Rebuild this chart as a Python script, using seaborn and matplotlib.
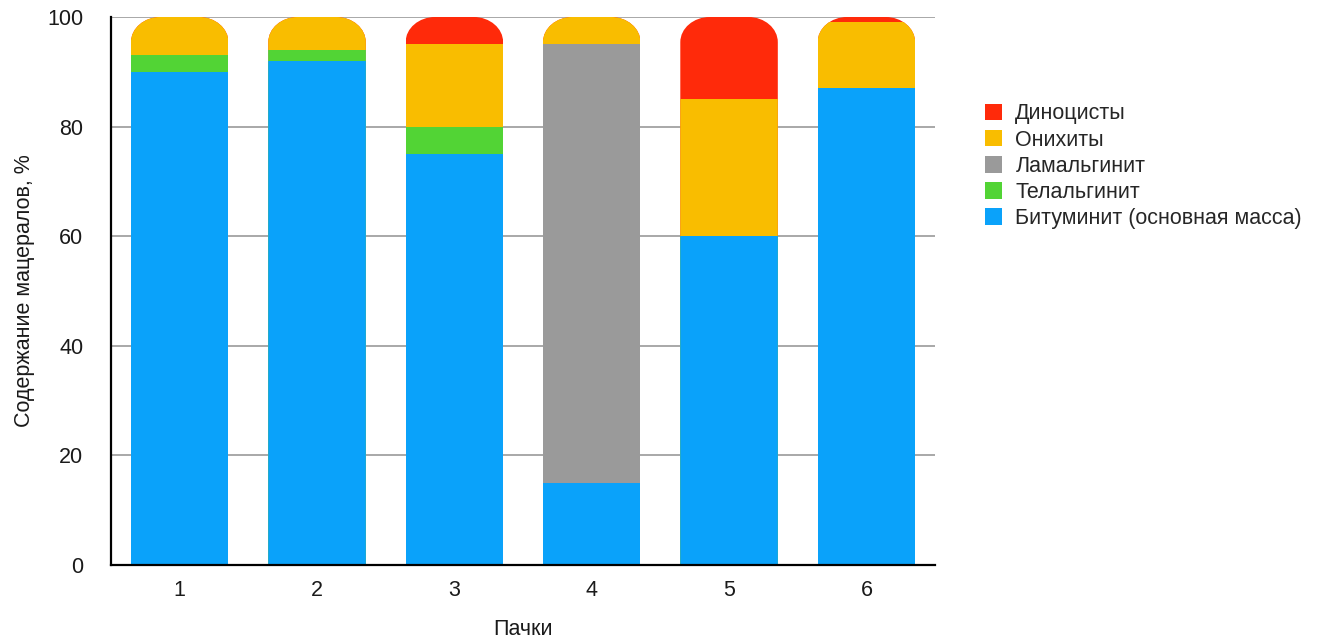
import numpy as np
import pandas as pd
import matplotlib
matplotlib.use("Agg")
import matplotlib.pyplot as plt
from matplotlib.patches import Patch
from matplotlib.path import Path
import seaborn as sns

# Macerals composition by unit (пачки), percent
packs = ["1", "2", "3", "4", "5", "6"]
bituminite = [90, 92, 75, 15, 60, 87]
telalginite = [3, 2, 5, 0, 0, 0]
lamalginite = [0, 0, 0, 80, 0, 0]
onychites = [7, 6, 15, 5, 25, 12]
dinocysts = [0, 0, 5, 0, 15, 1]

layer_names = ["Битуминит (основная масса)", "Телальгинит", "Ламальгинит",
               "Онихиты", "Диноцисты"]
layer_values = [bituminite, telalginite, lamalginite, onychites, dinocysts]
layer_colors = ["#0aa2fa", "#52d435", "#9a9a9a", "#f9bd00", "#ff2a0a"]

sns.set_theme(style="white")
plt.rcParams["font.family"] = ["Liberation Sans", "DejaVu Sans"]

fig = plt.figure(figsize=(13.36, 6.41), dpi=100)
ax = fig.add_axes([0.0831, 0.1186, 0.6168, 0.8549])

# cumulative tops for each layer, drawn top layer first so lower layers overlay
cum = np.cumsum(np.array(layer_values, dtype=float), axis=0)
bar_patches = []
for i in reversed(range(len(layer_names))):
    df = pd.DataFrame({"pack": packs, "top": cum[i]})
    before = len(ax.patches)
    sns.barplot(data=df, x="pack", y="top", color=layer_colors[i],
                saturation=1, width=0.71, ax=ax, linewidth=0, zorder=3)
    bar_patches.extend(ax.patches[before:])

# rounded-top clip for every column, built from the drawn bar geometry
columns = {}
for p in bar_patches:
    key = round(p.get_x(), 4)
    top = p.get_y() + p.get_height()
    x0, w = p.get_x(), p.get_width()
    if key not in columns or top > columns[key][2]:
        columns[key] = (x0, w, top)

rx, ry = 0.215, 4.6
k = 0.5523
clips = {}
for key, (x0, w, top) in columns.items():
    x1 = x0 + w
    verts = [
        (x0, -1), (x0, top - ry),
        (x0, top - ry + k * ry), (x0 + rx - k * rx, top), (x0 + rx, top),
        (x1 - rx, top),
        (x1 - rx + k * rx, top), (x1, top - ry + k * ry), (x1, top - ry),
        (x1, -1), (x0, -1),
    ]
    codes = [Path.MOVETO, Path.LINETO,
             Path.CURVE4, Path.CURVE4, Path.CURVE4,
             Path.LINETO,
             Path.CURVE4, Path.CURVE4, Path.CURVE4,
             Path.LINETO, Path.CLOSEPOLY]
    clips[key] = Path(verts, codes)

for p in bar_patches:
    p.set_clip_path(clips[round(p.get_x(), 4)], ax.transData)

ax.set_ylim(0, 100)
ax.set_xlim(-0.5, 5.5)
ax.set_yticks([0, 20, 40, 60, 80, 100])
ax.yaxis.grid(True, color="#9a9a9a", linewidth=1.2, zorder=0)
ax.xaxis.grid(False)
ax.set_axisbelow(True)

for side in ["top", "right"]:
    ax.spines[side].set_visible(False)
for side in ["left", "bottom"]:
    ax.spines[side].set_color("black")
    ax.spines[side].set_linewidth(1.6)
    ax.spines[side].set_zorder(5)

ax.tick_params(axis="both", length=0, labelsize=15.5, colors="#1a1a1a")
ax.tick_params(axis="y", pad=20)
ax.tick_params(axis="x", pad=11)

ax.set_xlabel("Пачки", fontsize=15.5, labelpad=13, color="#1a1a1a")
ax.set_ylabel("Содержание мацералов, %", fontsize=15.5, labelpad=9,
              color="#1a1a1a")

handles = [Patch(facecolor=layer_colors[i], edgecolor="none", label=layer_names[i])
           for i in reversed(range(len(layer_names)))]
fig.legend(handles=handles, loc="upper left", bbox_to_anchor=(0.731, 0.852),
           frameon=False, fontsize=15.5, handlelength=0.8, handleheight=0.8,
           handletextpad=0.6, labelspacing=0.24, borderaxespad=0)

fig.savefig("out.png", dpi=100)
